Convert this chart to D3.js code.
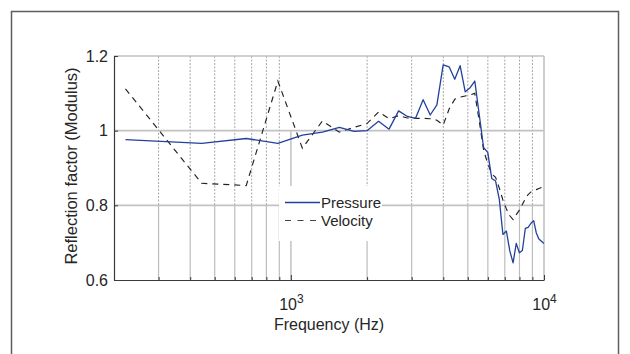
<!DOCTYPE html>
<html>
<head>
<meta charset="utf-8">
<script src="https://cdn.jsdelivr.net/npm/d3@7"></script>
<style>
  body { margin: 0; background: #fff; }
  text { font-family: "Liberation Sans", Arial, Helvetica, sans-serif; fill: #262626; }
</style>
</head>
<body>
<svg id="chart" width="630" height="354"></svg>
<script>
// Measurement frequencies (Hz)
const frequencies = [222, 444, 666, 888, 1110, 1332, 1554, 1776, 1998, 2220,
  2442, 2664, 2886, 3108, 3330, 3552, 3774, 3996, 4218, 4440,
  4662, 4884, 5106, 5328, 5550, 5772, 5994, 6216, 6438, 6660,
  6882, 7104, 7326, 7548, 7770, 7992, 8214, 8436, 8658, 8880,
  9102, 9324, 9546, 9768, 9990];

// Reflection factor modulus, pressure-based estimate
const pressure = [0.976, 0.966, 0.979, 0.966, 0.988, 0.996, 1.009, 0.998, 1.000, 1.025,
  1.004, 1.053, 1.038, 1.033, 1.083, 1.042, 1.069, 1.176, 1.171, 1.138,
  1.174, 1.104, 1.115, 1.133, 1.042, 0.955, 0.942, 0.872, 0.865, 0.816,
  0.722, 0.731, 0.678, 0.646, 0.698, 0.673, 0.679, 0.738, 0.741, 0.752,
  0.759, 0.726, 0.710, 0.704, 0.698];

// Reflection factor modulus, velocity-based estimate
const velocity = [1.112, 0.859, 0.853, 1.133, 0.953, 1.026, 0.996, 1.009, 1.019, 1.050,
  1.032, 1.040, 1.034, 1.033, 1.033, 1.032, 1.028, 1.015, 1.058, 1.084,
  1.090, 1.093, 1.096, 1.100, 1.025, 0.948, 0.912, 0.884, 0.875, 0.846,
  0.814, 0.790, 0.772, 0.762, 0.775, 0.787, 0.802, 0.818, 0.829, 0.836,
  0.839, 0.842, 0.845, 0.848, 0.851];

const xDomain = [200, 10000];
const yDomain = [0.6, 1.2];
const yTicks = [0.6, 0.8, 1, 1.2];
const yGrid = [0.8, 1];
const minorFreqs = [300, 400, 500, 600, 700, 800, 900, 2000, 3000, 4000, 5000, 6000, 7000, 8000, 9000];
const majorFreqs = [1000, 10000];
const majorExponents = ["3", "4"];
const seriesNames = ["Pressure", "Velocity"];

const svg = d3.select("#chart");
const W = 630, H = 354;
const plot = { left: 114, right: 544, top: 56, bottom: 280 };

svg.append("rect").attr("width", W).attr("height", H).attr("fill", "#fff");

// outer figure frame
svg.append("rect")
  .attr("x", 11.5).attr("y", 11.5).attr("width", 607).attr("height", 370)
  .attr("fill", "none").attr("stroke", "#5e5e5e").attr("stroke-width", 1.5);

const x = d3.scaleLog().domain(xDomain).range([plot.left, plot.right]);
const y = d3.scaleLinear().domain(yDomain).range([plot.bottom, plot.top]);

const grid = svg.append("g");

// vertical minor grid: dotted in the upper part, solid near the floor
grid.selectAll("line.vminor").data(minorFreqs).join("line")
  .attr("x1", d => x(d)).attr("x2", d => x(d))
  .attr("y1", plot.top).attr("y2", y(0.8))
  .attr("stroke", "#a6a6a6").attr("stroke-width", 1)
  .attr("stroke-dasharray", "2,1.5");
grid.selectAll("line.vminorlow").data(minorFreqs).join("line")
  .attr("x1", d => x(d)).attr("x2", d => x(d))
  .attr("y1", y(0.8)).attr("y2", plot.bottom)
  .attr("stroke", "#bdbdbd").attr("stroke-width", 1.2);

// major vertical grid at 10^3
grid.append("line")
  .attr("x1", x(1000)).attr("x2", x(1000))
  .attr("y1", y(1)).attr("y2", plot.bottom)
  .attr("stroke", "#c2c2c2").attr("stroke-width", 1.5);

// horizontal grid
grid.selectAll("line.h").data(yGrid).join("line")
  .attr("x1", plot.left).attr("x2", plot.right)
  .attr("y1", d => y(d)).attr("y2", d => y(d))
  .attr("stroke", "#c2c2c2").attr("stroke-width", 1.6);

// top and right box edges
svg.append("line").attr("x1", plot.left).attr("x2", plot.right)
  .attr("y1", plot.top).attr("y2", plot.top)
  .attr("stroke", "#c2c2c2").attr("stroke-width", 1.6);
svg.append("line").attr("x1", plot.right).attr("x2", plot.right)
  .attr("y1", plot.top).attr("y2", plot.bottom)
  .attr("stroke", "#c2c2c2").attr("stroke-width", 1.6);

// series
svg.append("clipPath").attr("id", "plotclip").append("rect")
  .attr("x", plot.left).attr("y", plot.top - 2)
  .attr("width", plot.right - plot.left).attr("height", plot.bottom - plot.top + 2);

const line = d3.line().x(d => x(d[0])).y(d => y(d[1]));
const pData = frequencies.map((f, i) => [f, pressure[i]]);
const vData = frequencies.map((f, i) => [f, velocity[i]]);

const series = svg.append("g").attr("clip-path", "url(#plotclip)");
series.append("path").datum(vData).attr("d", line)
  .attr("fill", "none").attr("stroke", "#222").attr("stroke-width", 1.15)
  .attr("stroke-dasharray", "6,5");
series.append("path").datum(pData).attr("d", line)
  .attr("fill", "none").attr("stroke", "#22419a").attr("stroke-width", 1.3)
  .attr("stroke-linejoin", "round");

// legend
const lg = svg.append("g");
lg.append("rect").attr("x", 279).attr("y", 186).attr("width", 103).attr("height", 55).attr("fill", "#fff");
const lgRows = [202.5, 220.5];
lg.append("line").attr("x1", 285).attr("x2", 320).attr("y1", lgRows[0]).attr("y2", lgRows[0])
  .attr("stroke", "#22419a").attr("stroke-width", 1.3);
lg.append("line").attr("x1", 285).attr("x2", 320).attr("y1", lgRows[1]).attr("y2", lgRows[1])
  .attr("stroke", "#444").attr("stroke-width", 1.15).attr("stroke-dasharray", "6,6.5");
lg.selectAll("text").data(seriesNames).join("text")
  .attr("x", 321).attr("y", (d, i) => lgRows[i] + 5)
  .attr("font-size", 15).text(d => d);

// y axis
const yAxis = d3.axisLeft(y).tickValues(yTicks)
  .tickFormat(d => d === 1 ? "1" : d3.format(".1f")(d))
  .tickSizeInner(-4).tickSizeOuter(0).tickPadding(6);
const gy = svg.append("g").attr("transform", `translate(${plot.left},0)`).call(yAxis);
gy.select(".domain").attr("stroke", "#3a3a3a").attr("stroke-width", 1.2);
gy.selectAll(".tick line").attr("stroke", "#3a3a3a");
gy.selectAll(".tick text").attr("font-size", 16).attr("font-family", null).attr("fill", "#262626");

// x axis
const xAxis = d3.axisBottom(x).tickValues(minorFreqs.concat(majorFreqs))
  .tickFormat(() => "").tickSizeInner(-3).tickSizeOuter(0);
const gx = svg.append("g").attr("transform", `translate(0,${plot.bottom})`).call(xAxis);
gx.select(".domain").attr("stroke", "#3a3a3a").attr("stroke-width", 1.2);
gx.selectAll(".tick line").attr("stroke", "#3a3a3a")
  .attr("y2", d => majorFreqs.includes(d) ? -5 : -3);
gx.selectAll(".tick text")
  .filter(d => majorFreqs.includes(d))
  .attr("font-family", null).attr("fill", "#262626")
  .attr("y", 30).attr("dy", null).attr("font-size", 16)
  .each(function(d) {
    const t = d3.select(this);
    const i = majorFreqs.indexOf(d);
    t.text(null);
    t.append("tspan").text("10");
    t.append("tspan").attr("font-size", 12).attr("dy", -7).text(majorExponents[i]);
  });

// axis titles
svg.append("text").attr("x", (plot.left + plot.right) / 2).attr("y", 330)
  .attr("text-anchor", "middle").attr("font-size", 16).text("Frequency (Hz)");
svg.append("text").attr("transform", `translate(77,${(plot.top + plot.bottom) / 2 - 2}) rotate(-90)`)
  .attr("text-anchor", "middle").attr("font-size", 16.5).text("Reflection factor (Modulus)");
</script>
</body>
</html>
